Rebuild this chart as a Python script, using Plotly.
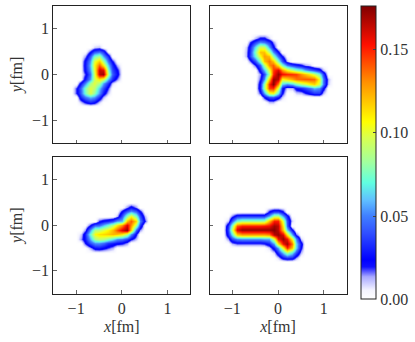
import numpy as np
import plotly.graph_objects as go

# Axis tick values and colourbar ticks
axis_ticks = [-1, 0, 1]
axis_tick_labels = ["\u22121", "0", "1"]
cbar_ticks = [0.0, 0.05, 0.10, 0.15]
cbar_labels = ["0.00", "0.05", "0.10", "0.15"]
z_max = 0.176

# Density values, in thousandths, rows from top to bottom.
tl_x = [-1.1, -1.0, -0.9, -0.8, -0.7, -0.6, -0.5, -0.4, -0.3, -0.2, -0.1, 0.0]
tl_y = [0.7, 0.6, 0.5, 0.4, 0.3, 0.2, 0.1, 0.0, -0.1, -0.2, -0.3, -0.4, -0.5, -0.6, -0.7]
tl_z = [
    [0, 0, 0, 0, 0, 0, 0, 0, 0, 0, 0, 0],
    [0, 0, 0, 0, 0, 9, 11, 0, 0, 0, 0, 0],
    [0, 0, 0, 0, 19, 36, 42, 31, 0, 0, 0, 0],
    [0, 0, 0, 14, 42, 75, 85, 55, 29, 0, 0, 0],
    [0, 0, 0, 27, 55, 100, 118, 85, 44, 22, 0, 0],
    [0, 0, 0, 29, 60, 105, 140, 110, 60, 31, 11, 0],
    [0, 0, 0, 27, 55, 100, 165, 160, 75, 38, 22, 0],
    [0, 0, 0, 19, 47, 95, 165, 172, 85, 42, 25, 0],
    [0, 0, 0, 29, 55, 95, 110, 95, 55, 31, 14, 0],
    [0, 0, 25, 52, 85, 100, 85, 55, 31, 9, 0, 0],
    [0, 19, 42, 78, 100, 90, 60, 38, 17, 0, 0, 0],
    [0, 19, 40, 75, 98, 80, 52, 27, 9, 0, 0, 0],
    [0, 0, 29, 47, 58, 52, 31, 11, 0, 0, 0, 0],
    [0, 0, 9, 22, 31, 25, 9, 0, 0, 0, 0, 0],
    [0, 0, 0, 0, 0, 0, 0, 0, 0, 0, 0, 0],
]

tr_x = [-0.8, -0.7, -0.6, -0.5, -0.4, -0.3, -0.2, -0.1, 0.0, 0.1, 0.2, 0.3, 0.4, 0.5, 0.6, 0.7, 0.8, 0.9, 1.0, 1.1, 1.2]
tr_y = [0.9, 0.8, 0.7, 0.6, 0.5, 0.4, 0.3, 0.2, 0.1, 0.0, -0.1, -0.2, -0.3, -0.4, -0.5, -0.6, -0.7]
tr_z = [
    [0, 0, 0, 0, 0, 0, 0, 0, 0, 0, 0, 0, 0, 0, 0, 0, 0, 0, 0, 0, 0],
    [0, 0, 0, 11, 22, 22, 9, 0, 0, 0, 0, 0, 0, 0, 0, 0, 0, 0, 0, 0, 0],
    [0, 0, 19, 36, 52, 47, 34, 14, 0, 0, 0, 0, 0, 0, 0, 0, 0, 0, 0, 0, 0],
    [0, 9, 31, 65, 98, 95, 55, 25, 0, 0, 0, 0, 0, 0, 0, 0, 0, 0, 0, 0, 0],
    [0, 11, 36, 78, 120, 120, 90, 52, 25, 0, 0, 0, 0, 0, 0, 0, 0, 0, 0, 0, 0],
    [0, 11, 38, 70, 105, 128, 120, 80, 44, 22, 0, 0, 0, 0, 0, 0, 0, 0, 0, 0, 0],
    [0, 0, 17, 40, 78, 120, 135, 118, 75, 40, 11, 0, 0, 0, 0, 0, 0, 0, 0, 0, 0],
    [0, 0, 0, 19, 44, 88, 130, 140, 110, 75, 47, 36, 29, 22, 14, 9, 0, 0, 0, 0, 0],
    [0, 0, 0, 0, 29, 58, 100, 145, 160, 130, 107, 93, 80, 72, 58, 47, 40, 29, 11, 0, 0],
    [0, 0, 0, 0, 14, 38, 85, 150, 172, 155, 150, 148, 145, 130, 120, 108, 95, 74, 36, 0, 0],
    [0, 0, 0, 0, 19, 52, 120, 172, 165, 105, 115, 125, 135, 138, 140, 140, 138, 105, 47, 11, 0],
    [0, 0, 0, 0, 29, 82, 150, 175, 130, 62, 52, 60, 75, 88, 95, 108, 115, 95, 47, 9, 0],
    [0, 0, 0, 0, 31, 85, 145, 148, 95, 27, 9, 11, 25, 31, 38, 47, 58, 52, 25, 0, 0],
    [0, 0, 0, 0, 19, 55, 100, 105, 65, 22, 0, 0, 9, 11, 19, 27, 34, 34, 11, 0, 0],
    [0, 0, 0, 0, 0, 22, 38, 40, 27, 9, 0, 0, 0, 0, 0, 0, 0, 0, 0, 0, 0],
    [0, 0, 0, 0, 0, 0, 11, 11, 0, 0, 0, 0, 0, 0, 0, 0, 0, 0, 0, 0, 0],
    [0, 0, 0, 0, 0, 0, 0, 0, 0, 0, 0, 0, 0, 0, 0, 0, 0, 0, 0, 0, 0],
]

bl_x = [-1.0, -0.9, -0.8, -0.7, -0.6, -0.5, -0.4, -0.3, -0.2, -0.1, 0.0, 0.1, 0.2, 0.3, 0.4, 0.5, 0.6]
bl_y = [0.5, 0.4, 0.3, 0.2, 0.1, 0.0, -0.1, -0.2, -0.3, -0.4, -0.5, -0.6]
bl_z = [
    [0, 0, 0, 0, 0, 0, 0, 0, 0, 0, 0, 0, 0, 0, 0, 0, 0],
    [0, 0, 0, 0, 0, 0, 0, 0, 0, 0, 0, 14, 25, 14, 0, 0, 0],
    [0, 0, 0, 0, 0, 0, 0, 0, 0, 0, 22, 40, 52, 42, 22, 0, 0],
    [0, 0, 0, 0, 0, 0, 0, 0, 0, 11, 40, 80, 105, 78, 40, 11, 0],
    [0, 0, 0, 0, 0, 19, 27, 31, 40, 55, 60, 120, 140, 115, 52, 19, 0],
    [0, 0, 0, 19, 42, 44, 60, 72, 90, 110, 130, 160, 130, 90, 36, 0, 0],
    [0, 0, 14, 52, 88, 90, 100, 108, 122, 140, 160, 172, 115, 44, 14, 0, 0],
    [0, 9, 29, 70, 105, 112, 115, 118, 122, 120, 110, 90, 52, 22, 0, 0, 0],
    [0, 14, 27, 55, 85, 92, 88, 78, 65, 52, 47, 36, 22, 11, 0, 0, 0],
    [0, 0, 19, 38, 52, 52, 44, 34, 29, 25, 22, 14, 0, 0, 0, 0, 0],
    [0, 0, 0, 11, 25, 27, 22, 17, 11, 0, 0, 0, 0, 0, 0, 0, 0],
    [0, 0, 0, 0, 0, 0, 0, 0, 0, 0, 0, 0, 0, 0, 0, 0, 0],
]

br_x = [-1.2, -1.1, -1.0, -0.9, -0.8, -0.7, -0.6, -0.5, -0.4, -0.3, -0.2, -0.1, 0.0, 0.1, 0.2, 0.3, 0.4, 0.5, 0.6]
br_y = [0.4, 0.3, 0.2, 0.1, 0.0, -0.1, -0.2, -0.3, -0.4, -0.5, -0.6, -0.7, -0.8]
br_z = [
    [0, 0, 0, 0, 0, 0, 0, 0, 0, 0, 0, 0, 0, 0, 0, 0, 0, 0, 0],
    [0, 0, 0, 0, 0, 0, 0, 0, 0, 0, 22, 36, 36, 22, 0, 0, 0, 0, 0],
    [0, 0, 14, 29, 31, 31, 31, 31, 31, 31, 52, 85, 85, 52, 27, 0, 0, 0, 0],
    [0, 9, 40, 72, 80, 80, 80, 80, 80, 82, 118, 150, 150, 95, 40, 9, 0, 0, 0],
    [0, 31, 78, 140, 150, 150, 150, 150, 150, 152, 155, 170, 165, 110, 44, 0, 0, 0, 0],
    [0, 36, 92, 160, 172, 172, 172, 172, 172, 172, 172, 175, 165, 118, 62, 25, 0, 0, 0],
    [0, 29, 65, 115, 125, 125, 125, 125, 125, 125, 130, 165, 172, 160, 112, 58, 19, 0, 0],
    [0, 14, 38, 52, 55, 55, 55, 55, 55, 58, 58, 100, 155, 172, 155, 105, 52, 9, 0],
    [0, 0, 11, 17, 17, 17, 17, 17, 17, 19, 29, 55, 110, 155, 170, 135, 65, 27, 0],
    [0, 0, 0, 0, 0, 0, 0, 0, 0, 0, 9, 29, 55, 105, 150, 120, 65, 22, 0],
    [0, 0, 0, 0, 0, 0, 0, 0, 0, 0, 0, 9, 31, 60, 85, 65, 38, 11, 0],
    [0, 0, 0, 0, 0, 0, 0, 0, 0, 0, 0, 0, 9, 27, 34, 31, 14, 0, 0],
    [0, 0, 0, 0, 0, 0, 0, 0, 0, 0, 0, 0, 0, 0, 0, 0, 0, 0, 0],
]

panels = [
    ("x", "y", tl_x, tl_y, tl_z),
    ("x2", "y2", tr_x, tr_y, tr_z),
    ("x3", "y3", bl_x, bl_y, bl_z),
    ("x4", "y4", br_x, br_y, br_z),
]

W, H = 415, 342
colorscale = [
    [0.0, "#ffffff"], [0.03, "#f4f4ff"], [0.076, "#a8a8ff"], [0.11, "#1010ff"],
    [0.134, "#0000ff"], [0.226, "#3050ff"], [0.284, "#4080ff"], [0.338, "#60c0ff"],
    [0.397, "#60ffe0"], [0.465, "#a0ffa0"], [0.55, "#d8ff50"], [0.605, "#ffff00"],
    [0.74, "#ff9000"], [0.867, "#ff1000"], [1.0, "#800000"],
]

fig = go.Figure()
for xa, ya, xs, ys, zs in panels:
    fig.add_trace(go.Heatmap(
        x=xs, y=ys[::-1], z=(np.array(zs[::-1]) / 1000.0).tolist(),
        xaxis=xa, yaxis=ya, coloraxis="coloraxis", zsmooth="best",
        hoverinfo="skip",
    ))

font = dict(family="Liberation Serif", size=16, color="#333333")
frame = dict(
    range=[-1.5, 1.5], tickmode="array", tickvals=axis_ticks, ticktext=axis_tick_labels,
    ticks="inside", ticklen=3.5, tickwidth=1, tickcolor="#666666",
    showline=True, mirror=True, linecolor="#222222", linewidth=1,
    showgrid=False, zeroline=False, tickfont=font,
)
xdom = {"l": [53.3 / W, 190.3 / W], "r": [209.5 / W, 346.5 / W]}
ydom = {"t": [1 - 143 / H, 1 - 6 / H], "b": [1 - 293.7 / H, 1 - 156.7 / H]}
xtitle = dict(text="<i>x</i>[fm]", font=font, standoff=4)
ytitle = dict(text="<i>y</i>[fm]", font=font, standoff=5)

fig.update_layout(
    width=W, height=H, margin=dict(l=0, r=0, t=0, b=0),
    paper_bgcolor="white", plot_bgcolor="white", font=font, showlegend=False,
    xaxis=dict(frame, domain=xdom["l"], anchor="y", showticklabels=False),
    yaxis=dict(frame, domain=ydom["t"], anchor="x", title=ytitle),
    xaxis2=dict(frame, domain=xdom["r"], anchor="y2", showticklabels=False),
    yaxis2=dict(frame, domain=ydom["t"], anchor="x2", showticklabels=False),
    xaxis3=dict(frame, domain=xdom["l"], anchor="y3", title=xtitle),
    yaxis3=dict(frame, domain=ydom["b"], anchor="x3", title=ytitle),
    xaxis4=dict(frame, domain=xdom["r"], anchor="y4", title=xtitle),
    yaxis4=dict(frame, domain=ydom["b"], anchor="x4", showticklabels=False),
    coloraxis=dict(
        cmin=0, cmax=z_max, colorscale=colorscale,
        colorbar=dict(
            x=361 / W, xanchor="left", y=1 - 299.3 / H, yanchor="bottom",
            len=293.3 / H, lenmode="fraction", thickness=15, thicknessmode="pixels",
            xpad=0, ypad=0, outlinewidth=1, outlinecolor="#222222",
            tickmode="array", tickvals=cbar_ticks, ticktext=cbar_labels,
            ticks="inside", ticklen=3, tickcolor="#444444", tickfont=font,
        ),
    ),
)
fig.write_html("out.html", post_script="document.body.style.margin='0';",
               config={"displayModeBar": False})
